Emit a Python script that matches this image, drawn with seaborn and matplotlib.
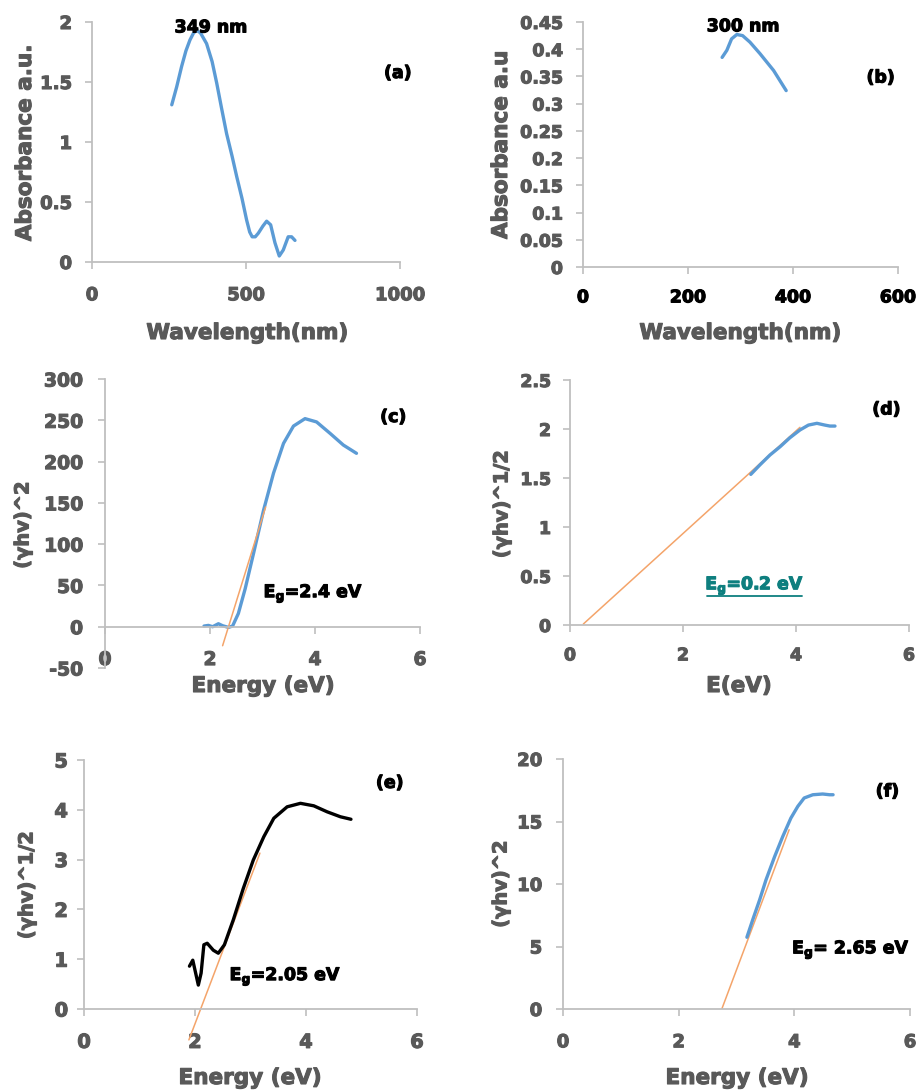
import numpy as np
import pandas as pd
import matplotlib
matplotlib.use("Agg")
import matplotlib.pyplot as plt
from matplotlib.lines import Line2D
from matplotlib.text import Text
import matplotlib.patheffects as pe
import seaborn as sns

# ---------------- data ----------------
# (a) absorbance spectrum 1
a_wl = [259, 275, 291, 305, 318, 330, 340, 352, 372, 390, 405, 420, 437, 455, 470, 487, 502, 512, 520, 530, 540, 555, 567, 580, 594, 608, 621, 637, 648, 659]
a_abs = [1.31, 1.46, 1.63, 1.76, 1.85, 1.91, 1.93, 1.91, 1.82, 1.67, 1.49, 1.29, 1.07, 0.88, 0.71, 0.53, 0.35, 0.25, 0.21, 0.21, 0.24, 0.30, 0.34, 0.31, 0.16, 0.05, 0.10, 0.21, 0.21, 0.18]
# (b) absorbance spectrum 2
b_wl = [265, 274, 283, 293, 304, 318, 337, 363, 387]
b_abs = [0.385, 0.398, 0.419, 0.427, 0.425, 0.413, 0.392, 0.361, 0.324]
# (c) Tauc plot (γhv)^2
c_e = [1.886, 1.97, 2.05, 2.16, 2.24, 2.35, 2.43, 2.54, 2.67, 2.83, 3.02, 3.21, 3.40, 3.59, 3.81, 4.03, 4.29, 4.54, 4.79]
c_y = [0.8, 1.6, 0.0, 3.6, 1.2, -0.8, 0.8, 16, 46, 89, 141, 186, 222, 243, 252, 248, 234, 220, 210]
c_fit_e = [2.24, 3.06]
c_fit_y = [-23, 145]
# (d) Tauc plot (γhv)^1/2
d_e = [3.20, 3.36, 3.54, 3.72, 3.89, 4.07, 4.22, 4.37, 4.51, 4.60, 4.69]
d_y = [1.537, 1.633, 1.735, 1.82, 1.91, 1.99, 2.04, 2.058, 2.04, 2.03, 2.03]
d_fit_e = [0.236, 4.07]
d_fit_y = [0.01, 2.017]
# (e) Tauc plot (γhv)^1/2
e_e = [1.90, 1.96, 2.00, 2.06, 2.11, 2.16, 2.22, 2.33, 2.42, 2.53, 2.69, 2.87, 3.05, 3.24, 3.42, 3.66, 3.90, 4.14, 4.38, 4.62, 4.81]
e_y = [0.86, 0.98, 0.78, 0.48, 0.72, 1.29, 1.32, 1.18, 1.12, 1.29, 1.79, 2.42, 2.99, 3.46, 3.83, 4.06, 4.13, 4.08, 3.96, 3.86, 3.81]
e_fit_e = [1.89, 3.17]
e_fit_y = [-0.62, 3.13]
# (f) Tauc plot (γhv)^2
f_e = [3.18, 3.28, 3.40, 3.51, 3.66, 3.80, 3.94, 4.06, 4.17, 4.32, 4.49, 4.61, 4.67]
f_y = [5.74, 7.13, 8.73, 10.33, 12.20, 13.80, 15.27, 16.21, 16.88, 17.14, 17.20, 17.14, 17.14]
f_fit_e = [2.75, 3.91]
f_fit_y = [0.05, 14.34]

# ---------------- style ----------------
sns.set_theme(style="white")
plt.rcParams['font.family'] = ['DejaVu Sans']
plt.rcParams['font.weight'] = 'bold'
plt.rcParams['mathtext.fontset'] = 'dejavusans'

W, H = 919, 1091
fig = plt.figure(figsize=(W / 100, H / 100), dpi=100)
fig.patch.set_facecolor('white')

BLUE = '#5b9bd5'
ORANGE = '#f4a46a'
GRAY = '#595959'
SPINE = '#bfbfbf'
TEAL = '#0e7f7f'


def rect(x0, y0, x1, y1):
    return [x0 / W, 1 - y1 / H, (x1 - x0) / W, (y1 - y0) / H]


def figtext(x, y, s, size, rot=0, color=GRAY):
    return fig.text(x / W, 1 - y / H, s, fontsize=size, rotation=rot, color=color,
                    fontweight='bold', ha='center', va='center')


def style(ax, xlim, ylim, xticks, yticks, tsize, xcolor=GRAY, xpad=12, ypad=9, xzero=False):
    for s in ['top', 'right']:
        ax.spines[s].set_visible(False)
    for s in ['left', 'bottom']:
        ax.spines[s].set_color(SPINE)
        ax.spines[s].set_linewidth(1.3)
    if xzero:
        ax.spines['bottom'].set_position(('data', 0))
    ax.set_xlim(*xlim)
    ax.set_ylim(*ylim)
    ax.set_xticks(xticks, [f"{t:g}" for t in xticks])
    ax.set_yticks(yticks, [f"{t:g}" for t in yticks])
    ax.tick_params(axis='both', which='major', length=5, width=1.2, color=SPINE,
                   direction='out', labelsize=tsize)
    ax.tick_params(axis='x', pad=xpad, bottom=True, labelcolor=xcolor)
    ax.tick_params(axis='y', pad=ypad, left=True, labelcolor=GRAY)
    ax.set_xlabel('')
    ax.set_ylabel('')
    ax.patch.set_alpha(0)


def curve(ax, x, y, color, lw, clip=True):
    df = pd.DataFrame({'x': x, 'y': y})
    n0 = len(ax.get_lines())
    sns.lineplot(data=df, x='x', y='y', ax=ax, color=color, lw=lw, estimator=None,
                 sort=False)
    if not clip:
        for ln in ax.get_lines()[n0:]:
            ln.set_clip_on(False)


def label(ax, x, y, s, size=12.5, color='black'):
    return ax.text(x, y, s, fontsize=size, fontweight='bold', color=color,
                   ha='center', va='center')


EG = r"E$_\mathbf{g}$"

# (a)
axa = fig.add_axes(rect(92, 22, 400, 262))
curve(axa, a_wl, a_abs, BLUE, 2.4)
style(axa, (0, 1000), (0, 2), [0, 500, 1000], [0, 0.5, 1, 1.5, 2], 13, xpad=12.5, ypad=9.4)
label(axa, 386, 1.955, "349 nm")
label(axa, 993, 1.575, "(a)")
figtext(247, 333, "Wavelength(nm)", 15.5)
figtext(25, 143, "Absorbance a.u.", 15.5, rot=90)

# (b)
axb = fig.add_axes(rect(583, 22, 898, 267))
curve(axb, b_wl, b_abs, BLUE, 2.4)
style(axb, (0, 600), (0, 0.45), [0, 200, 400, 600],
      [0, 0.05, 0.1, 0.15, 0.2, 0.25, 0.3, 0.35, 0.4, 0.45], 12.5, xcolor='black', xpad=10.4, ypad=9.4)
label(axb, 305, 0.442, "300 nm")
label(axb, 567, 0.348, "(b)")
figtext(740, 333, "Wavelength(nm)", 15.5)
figtext(501, 145, "Absorbance a.u", 15.5, rot=90)

# (c)
axc = fig.add_axes(rect(105, 379, 420, 668))
curve(axc, c_e, c_y, BLUE, 2.4)
curve(axc, c_fit_e, c_fit_y, ORANGE, 1.1)
style(axc, (0, 6), (-50, 300), [0, 2, 4, 6], [-50, 0, 50, 100, 150, 200, 250, 300], 13.5,
      xpad=11.8, ypad=10.8, xzero=True)
label(axc, 3.97, 40, EG + "=2.4 eV")
label(axc, 5.49, 254, "(c)")
figtext(263, 686, "Energy (eV)", 15.5)
figtext(23, 525, "(γhv)^2", 14, rot=90)

# (d)
axd = fig.add_axes(rect(570, 380, 909, 625))
curve(axd, d_fit_e, d_fit_y, ORANGE, 1.1)
curve(axd, d_e, d_y, BLUE, 2.4)
style(axd, (0, 6), (0, 2.5), [0, 2, 4, 6], [0, 0.5, 1, 1.5, 2, 2.5], 12.5, xpad=10.4, ypad=8.6)
td = label(axd, 3.27, 0.40, EG + "=0.2 eV", color=TEAL)
label(axd, 5.60, 2.20, "(d)")
figtext(739, 686, "E(eV)", 15.5)
figtext(502, 504, "(γhv)^1/2", 14, rot=90)

# (e)
axe = fig.add_axes(rect(84, 760, 417, 1009))
curve(axe, e_fit_e, e_fit_y, ORANGE, 1.1, clip=False)
curve(axe, e_e, e_y, 'black', 2.4)
style(axe, (0, 6), (0, 5), [0, 2, 4, 6], [0, 1, 2, 3, 4, 5], 14, xpad=12.2, ypad=6.5)
label(axe, 3.63, 0.65, EG + "=2.05 eV")
label(axe, 5.51, 4.54, "(e)")
figtext(250, 1078, "Energy (eV)", 15.5)
figtext(27, 885, "(γhv)^1/2", 14, rot=90)

# (f)
axf = fig.add_axes(rect(563, 759, 910, 1009))
curve(axf, f_fit_e, f_fit_y, ORANGE, 1.1)
curve(axf, f_e, f_y, BLUE, 2.4)
style(axf, (0, 6), (0, 20), [0, 2, 4, 6], [0, 5, 10, 15, 20], 13, xpad=12.5, ypad=10)
label(axf, 4.98, 4.73, EG + "= 2.65 eV")
label(axf, 5.61, 17.41, "(f)")
figtext(737, 1078, "Energy (eV)", 15.5)
figtext(501, 884, "(γhv)^2", 14, rot=90)

# heavier-looking text (the reference uses a very heavy face)
fig.canvas.draw()
for t in fig.findobj(Text):
    if t.get_text():
        t.set_path_effects([pe.withStroke(linewidth=0.8, foreground=t.get_color())])

# underline for the teal label in (d)
bb = td.get_window_extent(renderer=fig.canvas.get_renderer())
inv = fig.transFigure.inverted()
(x0, y0), (x1, _) = inv.transform([(bb.x0 + 2, bb.y0 + 1), (bb.x1 - 2, bb.y0 + 1)])
fig.add_artist(Line2D([x0, x1], [y0, y0], transform=fig.transFigure, color=TEAL, lw=1.3))

fig.savefig("out.png", dpi=100, facecolor='white')
